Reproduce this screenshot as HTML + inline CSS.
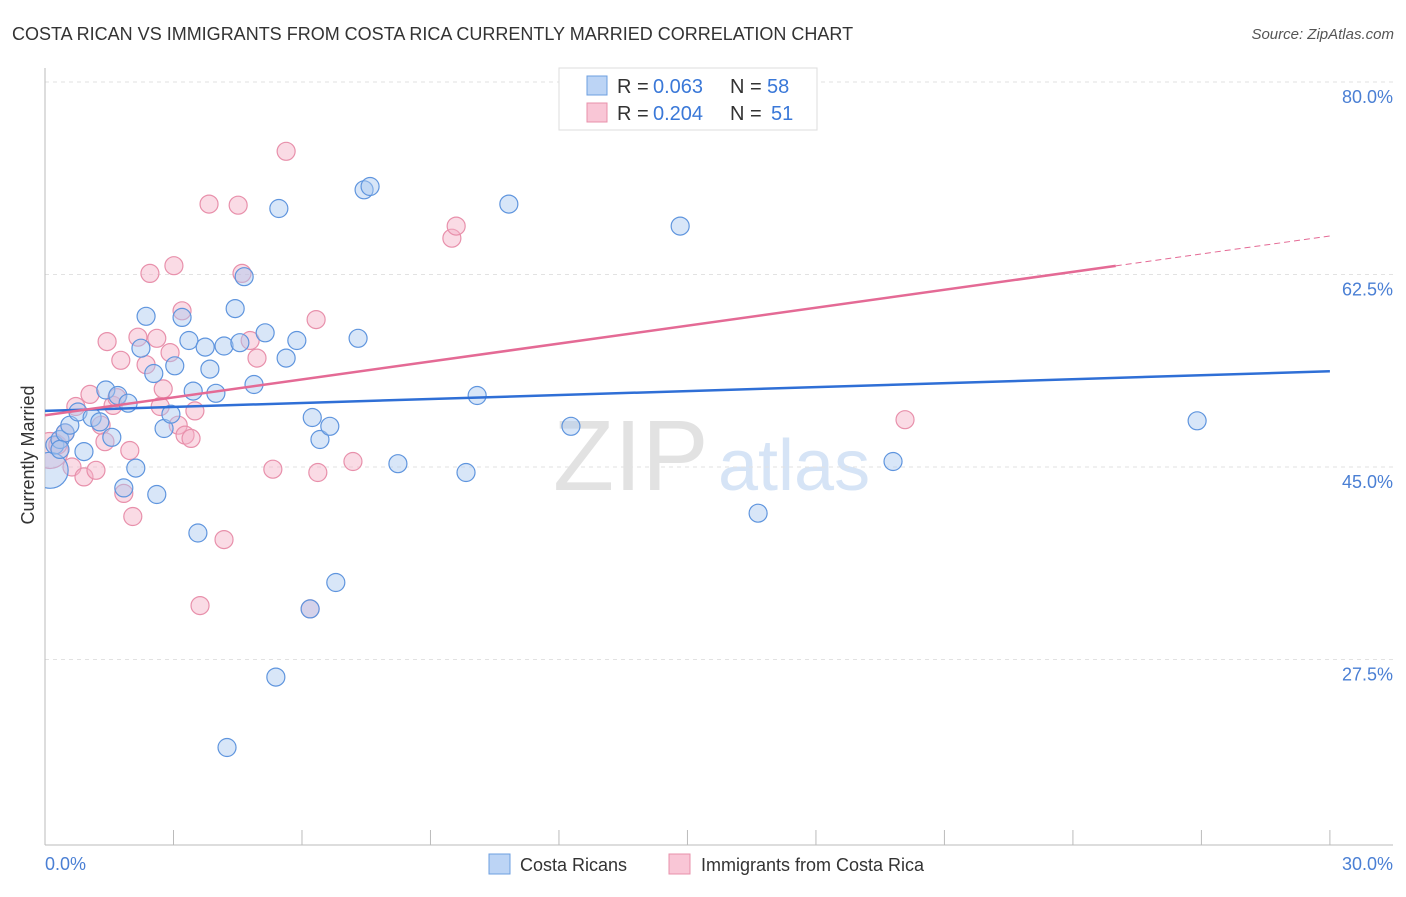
<!DOCTYPE html>
<html><head><meta charset="utf-8"><style>
body{margin:0;background:#fff;font-family:"Liberation Sans",sans-serif;}
svg text{font-family:"Liberation Sans",sans-serif;}
</style></head><body>
<svg id="c" width="1406" height="892">
<defs><clipPath id="pa"><rect x="45" y="60" width="1360" height="786"/></clipPath></defs>
<text x="12" y="40" font-size="18" fill="#333">COSTA RICAN VS IMMIGRANTS FROM COSTA RICA CURRENTLY MARRIED CORRELATION CHART</text>
<text x="1394" y="39" font-size="15" fill="#555" text-anchor="end" font-style="italic">Source: ZipAtlas.com</text>
<g>
<text x="553" y="490" font-size="100" fill="#e2e2e2" font-family="Liberation Serif">ZIP</text>
<text x="718" y="490" font-size="72" fill="#d6e4f6">atlas</text>
</g>
<g id="grid"></g><g id="axes"></g><g id="pts" clip-path="url(#pa)"></g><g id="lines"></g>
<text transform="translate(34,455) rotate(-90)" font-size="18" fill="#333" text-anchor="middle">Currently Married</text>
<text x="45" y="870" font-size="18" fill="#4a7fd4">0.0%</text>
<text x="1393" y="870" font-size="18" fill="#4a7fd4" text-anchor="end">30.0%</text>
<g>
<rect x="559" y="68" width="258" height="62" fill="#fff" stroke="#ddd"/>
<rect x="587" y="76" width="20" height="19" fill="#bcd4f5" stroke="#6d9fe0"/>
<rect x="587" y="103" width="20" height="19" fill="#f9c6d6" stroke="#e890ab"/>
<text x="617" y="93" font-size="20" fill="#333">R =</text>
<text x="653" y="93" font-size="20" fill="#3a78d8">0.063</text>
<text x="730" y="93" font-size="20" fill="#333">N =</text>
<text x="767" y="93" font-size="20" fill="#3a78d8">58</text>
<text x="617" y="120" font-size="20" fill="#333">R =</text>
<text x="653" y="120" font-size="20" fill="#3a78d8">0.204</text>
<text x="730" y="120" font-size="20" fill="#333">N =</text>
<text x="771" y="120" font-size="20" fill="#3a78d8">51</text>
</g>
<g>
<rect x="489" y="854" width="21" height="20" fill="#bcd4f5" stroke="#6d9fe0"/>
<text x="520" y="871" font-size="18" fill="#333">Costa Ricans</text>
<rect x="669" y="854" width="21" height="20" fill="#f9c6d6" stroke="#e890ab"/>
<text x="701" y="871" font-size="18" fill="#333">Immigrants from Costa Rica</text>
</g>
</svg>
<script>
const yTicks=[80,62.5,45,27.5];
const yTickLabels=["80.0%","62.5%","45.0%","27.5%"];
const blueX=[.12,.23,.35,.47,.58,.77,.91,1.10,1.28,1.42,1.56,1.70,1.84,1.94,2.12,2.24,2.36,2.54,2.61,2.78,2.94,3.03,3.20,3.36,3.46,3.57,3.74,3.85,3.99,4.18,4.25,4.44,4.55,4.65,4.88,5.14,5.39,5.46,5.63,5.88,6.19,6.24,6.42,6.65,6.79,7.31,7.45,7.59,8.24,9.83,10.09,10.83,12.28,14.83,16.65,19.80,26.90,.35];
const blueY=[44.7,47.0,47.5,48.1,48.8,50.0,46.4,49.5,49.1,52.0,47.7,51.5,43.1,50.8,44.9,55.8,58.7,53.5,42.5,48.5,49.8,54.2,58.6,56.5,51.9,39.0,55.9,53.9,51.7,56.0,19.5,59.4,56.3,62.3,52.5,57.2,25.9,68.5,54.9,56.5,32.1,49.5,47.5,48.7,34.5,56.7,70.2,70.5,45.3,44.5,51.5,68.9,48.7,66.9,40.8,45.5,49.2,46.6];
const pinkX=[.12,.30,.47,.63,.72,.91,1.05,1.19,1.31,1.40,1.45,1.59,1.68,1.77,1.84,1.98,2.05,2.17,2.36,2.45,2.61,2.69,2.76,2.92,3.01,3.11,3.20,3.27,3.41,3.50,3.62,3.83,4.18,4.51,4.60,4.79,4.95,5.32,5.63,6.19,6.33,6.37,7.19,9.50,9.60,20.08];
const pinkY=[46.5,47.0,48.1,45.0,50.5,44.1,51.6,44.7,48.8,47.3,56.4,50.6,51.3,54.7,42.6,46.5,40.5,56.8,54.3,62.6,56.7,50.5,52.1,55.4,63.3,48.8,59.2,47.9,47.6,50.1,32.4,68.9,38.4,68.8,62.6,56.5,54.9,44.8,73.7,32.1,58.4,44.5,45.5,65.8,66.9,49.3];
const blueFit=[50.1,53.7];
const pinkFit=[49.7,66.0];
const NS="http://www.w3.org/2000/svg";
const X=v=>45+v*42.83, Y=v=>82+(80-v)*11.0;
function mk(p,t,a){const e=document.createElementNS(NS,t);for(const k in a)e.setAttribute(k,a[k]);document.getElementById(p).appendChild(e);return e;}
yTicks.forEach((t,i)=>{
 let l=mk('grid','line',{x1:45,x2:1393,y1:Y(t),y2:Y(t),stroke:'#e2e2e2','stroke-dasharray':'4,4'});
 
 
 let tx=mk('grid','text',{x:1393,y:Y(t)+21,'font-size':18,fill:'#4a7fd4','text-anchor':'end'});
 tx.textContent=yTickLabels[i];
 
 
});
let ax=mk('axes','line',{x1:45,x2:45,y1:68,y2:845,stroke:'#bbb'});


let bx=mk('axes','line',{x1:45,x2:1393,y1:845,y2:845,stroke:'#bbb'});


for(let i=0;i<=10;i++){let t=mk('axes','line',{x1:X(i*3),x2:X(i*3),y1:830,y2:845,stroke:'#bbb'});
 
 }
function pts(xs,ys,f,s,n){xs.forEach((x,i)=>{let c=mk('pts','circle',{cx:X(x),cy:Y(ys[i]),r:(i==0?18:9),fill:f,'fill-opacity':0.45,stroke:s,'stroke-width':1.2});
 
 });}
pts(pinkX,pinkY,'#f4afc5','#e890ab','pink-point');
pts(blueX,blueY,'#a9c8f0','#5f95de','blue-point');
let bl=mk('lines','line',{x1:X(0),y1:Y(blueFit[0]),x2:X(30),y2:Y(blueFit[1]),stroke:'#2f6fd6','stroke-width':2.5});


const pe=25, py=v=>pinkFit[0]+(pinkFit[1]-pinkFit[0])*v/30;
let pl=mk('lines','line',{x1:X(0),y1:Y(py(0)),x2:X(pe),y2:Y(py(pe)),stroke:'#e46a95','stroke-width':2.5});


let pd=mk('lines','line',{x1:X(pe),y1:Y(py(pe)),x2:X(30),y2:Y(py(30)),stroke:'#e46a95','stroke-width':1,'stroke-dasharray':'6,4'});


</script>
</body></html>
